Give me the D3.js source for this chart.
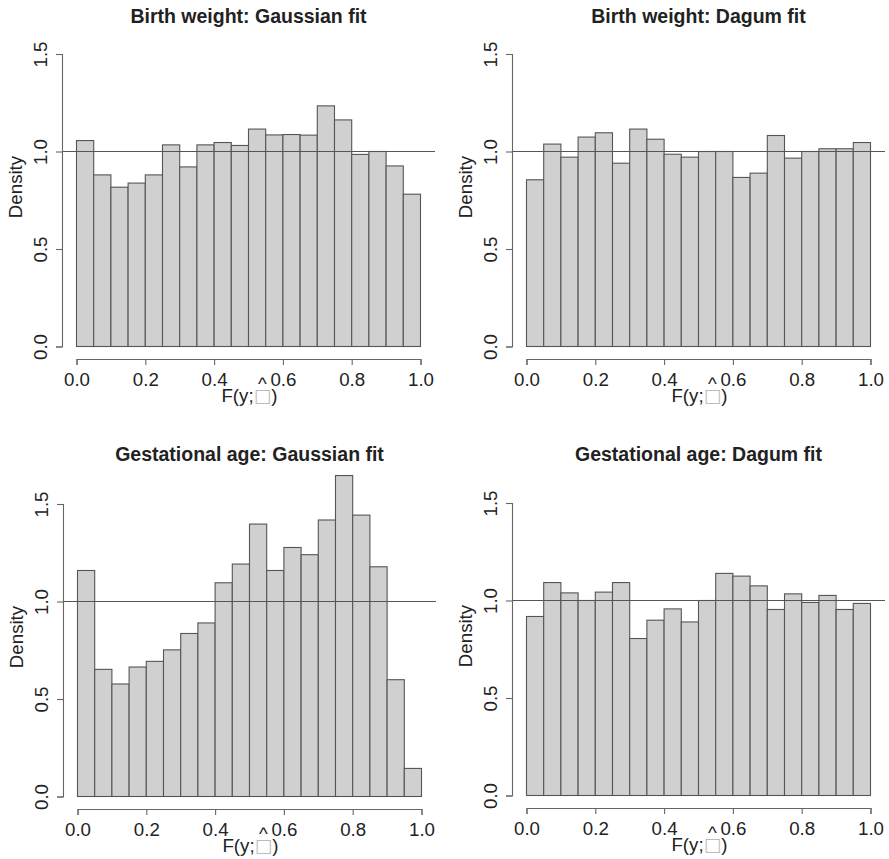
<!DOCTYPE html>
<html>
<head>
<meta charset="utf-8">
<script src="https://cdn.jsdelivr.net/npm/d3@7"></script>
<style>
  body { margin: 0; background: #fff; }
  text { font-family: "Liberation Sans", Arial, sans-serif; fill: #222; }
</style>
</head>
<body>
<div id="chart"></div>
<script>
// histogram bins (left edges, width 0.05)
var binStart = [0, 0.05, 0.1, 0.15, 0.2, 0.25, 0.3, 0.35, 0.4, 0.45, 0.5, 0.55, 0.6, 0.65, 0.7, 0.75, 0.8, 0.85, 0.9, 0.95];
var binWidth = 0.05;
var xTicks = [0, 0.2, 0.4, 0.6, 0.8, 1.0];
var yTicks = [0, 0.5, 1.0, 1.5];
var titles = ['Birth weight: Gaussian fit', 'Birth weight: Dagum fit', 'Gestational age: Gaussian fit', 'Gestational age: Dagum fit'];

var bwGauss = [1.056, 0.880, 0.817, 0.838, 0.880, 1.034, 0.921, 1.034, 1.046, 1.031, 1.115, 1.085, 1.087, 1.084, 1.234, 1.162, 0.985, 1.000, 0.926, 0.781];
var bwDagum = [0.855, 1.038, 0.971, 1.074, 1.096, 0.940, 1.115, 1.063, 0.986, 0.971, 1.000, 1.000, 0.867, 0.889, 1.082, 0.966, 1.000, 1.014, 1.014, 1.046];
var gaGauss = [1.159, 0.652, 0.577, 0.664, 0.693, 0.752, 0.836, 0.890, 1.096, 1.192, 1.397, 1.159, 1.277, 1.240, 1.418, 1.646, 1.443, 1.178, 0.599, 0.144];
var gaDagum = [0.918, 1.092, 1.039, 1.000, 1.043, 1.092, 0.805, 0.899, 0.957, 0.890, 1.000, 1.139, 1.125, 1.075, 0.954, 1.034, 0.990, 1.026, 0.954, 0.985];

var series = [bwGauss, bwDagum, gaGauss, gaDagum];

// panel placement: y axis x, pixel of y=1.5, title baseline
var layout = [
  {ax: 62, top: 54, ty: 23},
  {ax: 512, top: 54, ty: 23},
  {ax: 63, top: 504, ty: 461},
  {ax: 512, top: 503, ty: 461}
];
var plotW = 344, plotH = 292.5, pad = 14.5;

var svg = d3.select('#chart').append('svg')
  .attr('width', 889)
  .attr('height', 859)
  .style('background', '#fff');

var drawPanel = function(i){
  var L = layout[i];
  var vals = series[i];
  var x = d3.scaleLinear().domain([0, 1]).range([L.ax + pad, L.ax + pad + plotW]);
  var y = d3.scaleLinear().domain([0, 1.5]).range([L.top + plotH, L.top]);
  var g = svg.append('g');

  g.selectAll('rect.bar').data(vals)
    .enter().append('rect')
      .attr('class', 'bar')
      .attr('x', function(d, j){ return x(binStart[j]); })
      .attr('width', function(d, j){ return x(binStart[j] + binWidth) - x(binStart[j]); })
      .attr('y', function(d){ return y(d); })
      .attr('height', function(d){ return y(0) - y(d); })
      .style('fill', '#d0d0d0')
      .style('stroke', '#555')
      .style('stroke-width', 1.1);

  // reference line at density 1
  g.append('line')
    .attr('x1', L.ax).attr('x2', x(1) + pad)
    .attr('y1', y(1)).attr('y2', y(1))
    .style('stroke', '#555').style('stroke-width', 1.1);

  var xAxis = g.append('g')
    .attr('transform', 'translate(0,' + (y(0) + 12.5) + ')')
    .call(d3.axisBottom(x).tickValues(xTicks).tickSizeOuter(0).tickSize(6).tickPadding(8).tickFormat(d3.format('.1f')));
  xAxis.selectAll('text').style('font-size', '18.7px').style('fill', '#222').attr('dy', '0.71em');

  var yAxis = g.append('g')
    .attr('transform', 'translate(' + L.ax + ',0)')
    .call(d3.axisLeft(y).tickValues(yTicks).tickSizeOuter(0).tickSize(6).tickFormat(d3.format('.1f')));
  yAxis.selectAll('text')
    .attr('transform', 'rotate(-90)')
    .attr('x', 0).attr('y', -15.5).attr('dy', 0)
    .style('text-anchor', 'middle')
    .style('font-size', '18.7px').style('fill', '#222');

  [xAxis, yAxis].forEach(function(a){
    a.selectAll('path, line').style('stroke', '#666').style('stroke-width', 1.1);
  });

  g.append('text')
    .attr('transform', 'translate(' + (L.ax - 40) + ',' + (L.top + 133) + ') rotate(-90)')
    .style('text-anchor', 'middle')
    .style('font-size', '18.7px')
    .text('Density');

  // x label: F(y; theta-hat) where theta shows as a missing glyph box
  var lab = g.append('text')
    .attr('x', (x(0) + x(1)) / 2 + 1)
    .attr('y', y(0) + 55)
    .style('text-anchor', 'middle')
    .style('font-size', '18.7px');
  lab.append('tspan').text('F(y;');
  var hat = lab.append('tspan').text('^');
  var box = lab.append('tspan').text('\u25A1').style('fill', '#bbb').style('font-family', 'DejaVu Sans');
  lab.append('tspan').text(')');
  var hw = hat.node().getComputedTextLength();
  var bw = box.node().getComputedTextLength();
  var a = (bw - hw) / 2;
  hat.attr('dx', a).attr('dy', -11.5);
  box.attr('dx', -(a + hw)).attr('dy', 11.5);

  g.append('text')
    .attr('x', (L.ax + x(1) + pad) / 2)
    .attr('y', L.ty)
    .style('text-anchor', 'middle')
    .style('font-size', '19.5px')
    .style('font-weight', 'bold')
    .text(titles[i]);
}

for(var i = 0; i < series.length; i++) drawPanel(i);
</script>
</body>
</html>
